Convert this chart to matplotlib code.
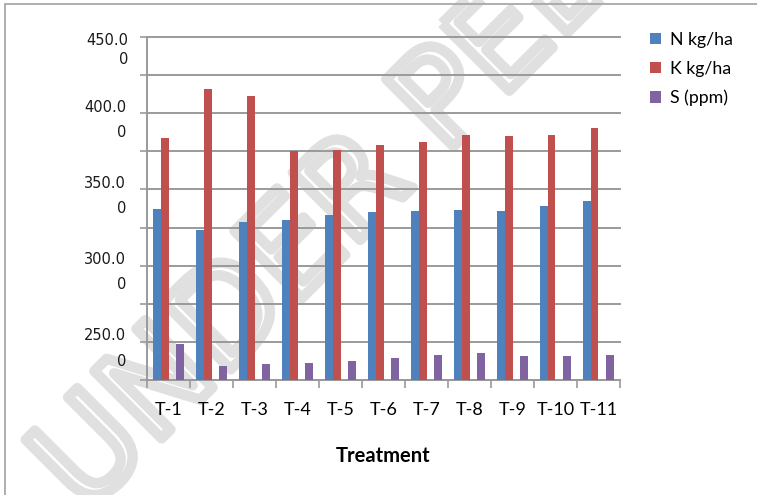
import matplotlib
matplotlib.use("Agg")
import matplotlib.pyplot as plt
import matplotlib.patheffects as pe
from matplotlib.patches import Rectangle
import numpy as np

categories = ["T-1", "T-2", "T-3", "T-4", "T-5", "T-6", "T-7", "T-8", "T-9", "T-10", "T-11"]
n_kg_ha = [224, 197, 207, 210, 217, 220, 222, 223, 222, 228, 235]
k_kg_ha = [318, 382, 373, 300, 302, 308, 312, 321, 320, 321, 331]
s_ppm = [47, 19, 21, 22, 25, 29, 33, 36, 31, 32, 33]
series_names = ["N kg/ha", "K kg/ha", "S (ppm)"]
ytick_values = [450, 350, 250, 150, 50]
ytick_labels = ["450.0\n0", "400.0\n0", "350.0\n0", "300.0\n0", "250.0\n0"]

colors = ["#4F81BD", "#C0504D", "#8064A2"]
grid_c = "#9a9a9a"

W, H = 757, 495
fig = plt.figure(figsize=(W / 100, H / 100), dpi=100)
fig.patch.set_facecolor("white")

# watermark (behind everything)
fig.text(85 / W, 1 - 515 / H, "UNDER PEER REVIEW", rotation=45, rotation_mode="anchor",
         ha="left", va="baseline", fontsize=94, family="DejaVu Sans", color="none",
         zorder=-5, path_effects=[pe.Stroke(linewidth=7.5, foreground="#e0e0e0")])

# outer frame (only left/top visible)
fig.add_artist(Rectangle((5 / W, -0.2), 1.2, 1.2 - 4 / H, transform=fig.transFigure,
                         fill=False, edgecolor="#a8a8a8", lw=1.3, clip_on=False, zorder=-4))

left, right, bottom, top = 147, 620, 380, 37
ax = fig.add_axes([left / W, 1 - bottom / H, (right - left) / W, (bottom - top) / H])
ax.set_facecolor("none")

x = np.arange(len(categories))
w = 1 / 5.5
slot_offsets = [-1.5 * w, -0.5 * w, 1.5 * w]  # third slot (empty series) left blank
handles = []
for vals, off, c, name in zip([n_kg_ha, k_kg_ha, s_ppm], slot_offsets, colors, series_names):
    b = ax.bar(x + off, vals, width=w, color=c, label=name, zorder=3, linewidth=0)
    handles.append(b)

ax.set_xlim(-0.5, len(categories) - 0.5)
ax.set_ylim(0, 450)

# y axis
yt = np.arange(0, 451, 50)
ax.set_yticks(yt)
lab_map = dict(zip(ytick_values[1:], ytick_labels[1:]))
ax.set_yticklabels([lab_map.get(v, "") for v in yt])
ax.tick_params(axis="y", length=5, width=1.2, color=grid_c, pad=10, labelsize=10.5)
for t in ax.get_yticklabels():
    t.set_family("DejaVu Sans")
    t.set_linespacing(1.85)
    t.set_multialignment("right")
    t.set_color("#1a1a1a")
# top label sits lower (clipped at the top edge in the original)
ax.annotate(ytick_labels[0], xy=(0, ytick_values[0]), xycoords=("axes fraction", "data"),
            xytext=(-13.5, 3), textcoords="offset points", ha="right", va="top",
            family="DejaVu Sans", fontsize=10.5, color="#1a1a1a", linespacing=1.35,
            multialignment="right", annotation_clip=False)
ax.yaxis.grid(True, color=grid_c, lw=1.4, zorder=1)
for gl in ax.yaxis.get_gridlines():
    gl.set_clip_on(False)

# x axis
ax.set_xticks(x)
ax.set_xticklabels(categories, family="Lato", fontsize=13)
ax.set_xticks(np.arange(-0.5, len(categories), 1), minor=True)
ax.tick_params(axis="x", which="major", length=0, pad=16)
ax.tick_params(axis="x", which="minor", length=6, width=1.2, color=grid_c)
ax.set_xlabel("Treatment", family="Lato", fontweight="bold", fontsize=14.5, labelpad=20)

for s in ["top", "right"]:
    ax.spines[s].set_visible(False)
for s in ["left", "bottom"]:
    ax.spines[s].set_color(grid_c)
    ax.spines[s].set_linewidth(1.4)

leg = ax.legend(handles=handles, loc="upper left", bbox_to_anchor=(650 / W, 1 - 32 / H),
                bbox_transform=fig.transFigure, frameon=False,
                prop={"family": "Lato", "size": 12.8}, handlelength=0.6, handleheight=0.6,
                handletextpad=0.5, labelspacing=0.72, borderaxespad=0, borderpad=0)

fig.savefig("out.png", dpi=100)
